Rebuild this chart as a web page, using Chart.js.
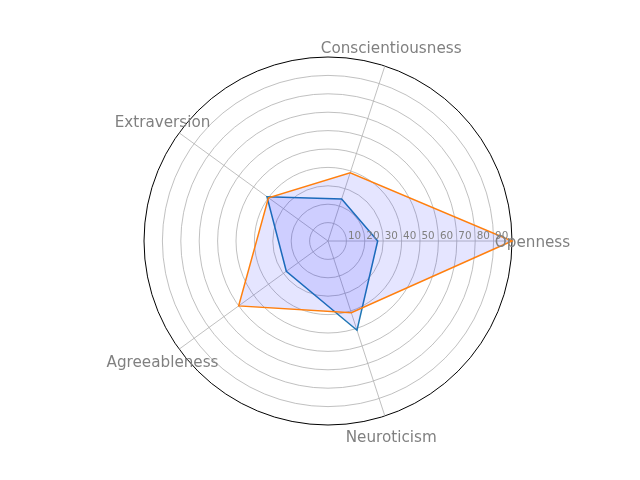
<!DOCTYPE html>
<html><head><meta charset="utf-8">
<script src="https://cdn.jsdelivr.net/npm/chart.js@4"></script>
<style>html,body{margin:0;padding:0;background:#fff}canvas{display:block}</style>
</head><body>
<canvas id="c" width="640" height="480"></canvas>
<script>
// Categories in the original (counter-clockwise) order, starting at the right
const categories = ['Openness', 'Conscientiousness', 'Extraversion', 'Agreeableness', 'Neuroticism'];
const seriesBlue = [27, 24, 41, 28, 51];
const seriesOrange = [100, 39, 40, 60, 41];
const radialTicks = [10, 20, 30, 40, 50, 60, 70, 80, 90];
const rMax = 100;

// Chart.js goes clockwise, so reorder to keep the counter-clockwise layout
const cwOrder = [0, 4, 3, 2, 1];
const labelsCW = cwOrder.map(i => categories[i]);
const blueCW = cwOrder.map(i => seriesBlue[i]);
const orangeCW = cwOrder.map(i => seriesOrange[i]);

const GRID = '#b0b0b0';
const TEXT = '#808080';

const labelPlugin = {
  id: 'mplLabels',
  afterDatasetsDraw(chart) {
    const s = chart.scales.r;
    const ctx = chart.ctx;
    ctx.save();
    ctx.fillStyle = TEXT;
    ctx.font = '10.4px "DejaVu Sans"';
    ctx.textAlign = 'left';
    ctx.textBaseline = 'alphabetic';
    radialTicks.forEach(v => {
      const d = s.getDistanceFromCenterForValue(v);
      ctx.fillText(String(v), s.xCenter + d + 1.5, s.yCenter - 1.8);
    });
    ctx.font = '15.2px "DejaVu Sans"';
    ctx.textAlign = 'center';
    ctx.textBaseline = 'middle';
    labelsCW.forEach((l, i) => {
      const p = s.getPointPosition(i, s.drawingArea + 20.5);
      ctx.fillText(l, p.x, p.y + 2.3);
    });
    ctx.restore();
  }
};

new Chart(document.getElementById('c'), {
  type: 'radar',
  data: {
    labels: labelsCW,
    datasets: [
      {
        data: blueCW,
        borderColor: '#1f77b4',
        backgroundColor: 'rgba(0,0,255,0.1)',
        borderWidth: 1.5,
        fill: true,
        pointRadius: 0,
        tension: 0,
        order: 1
      },
      {
        data: orangeCW,
        borderColor: '#ff7f0e',
        backgroundColor: 'rgba(0,0,255,0.1)',
        borderWidth: 1.5,
        fill: true,
        pointRadius: 0,
        tension: 0,
        order: 0
      }
    ]
  },
  options: {
    responsive: false,
    animation: false,
    devicePixelRatio: 1,
    layout: { padding: { left: 144, right: 128, top: 57, bottom: 55 } },
    plugins: { legend: { display: false }, tooltip: { enabled: false } },
    scales: {
      r: {
        min: 0,
        max: rMax,
        startAngle: 90,
        ticks: { display: false, stepSize: 10 },
        pointLabels: { display: false },
        grid: {
          circular: true,
          color: ctx => (ctx.tick && ctx.tick.value === rMax) ? '#000000' : GRID,
          lineWidth: ctx => (ctx.tick && ctx.tick.value === rMax) ? 1 : 0.8
        },
        angleLines: { color: GRID, lineWidth: 0.8 }
      }
    }
  },
  plugins: [labelPlugin]
});
</script>
</body></html>
